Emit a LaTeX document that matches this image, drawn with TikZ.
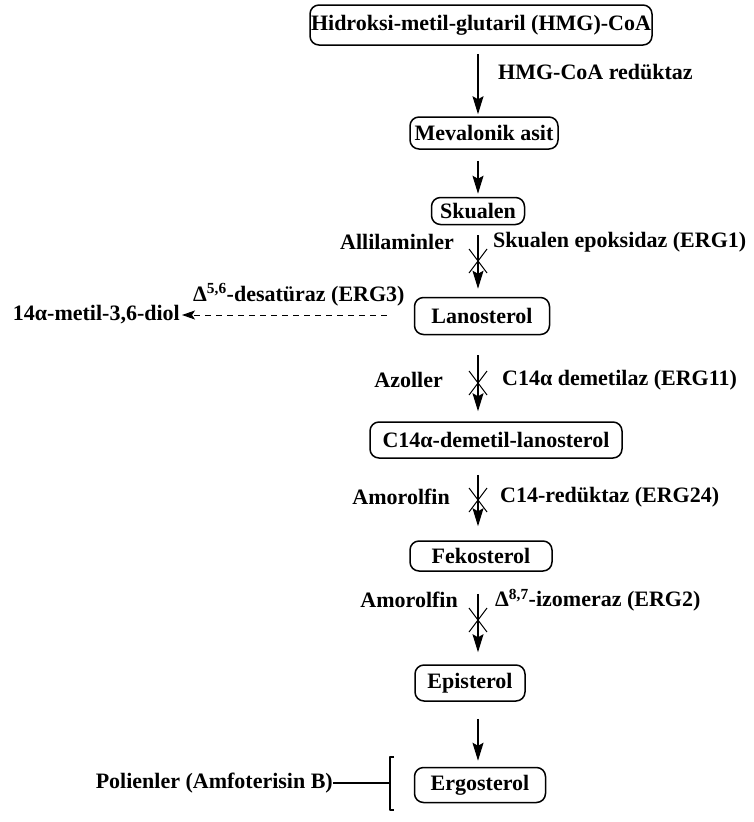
\documentclass[tikz,border=0pt]{standalone}
\usepackage{fontspec}
\setmainfont{Liberation Serif}
\usetikzlibrary{arrows.meta}
\tikzset{
  box/.style={draw, rounded corners=9pt, line width=1.5pt, inner sep=0pt},
  lab/.style={inner sep=0pt},
  stopx/.style={line width=1pt},
}
\begin{document}
\begin{tikzpicture}[x=1pt, y=-1pt, font=\fontsize{22}{26}\selectfont\bfseries, line join=round, >={Stealth[length=18pt,width=11pt,inset=3pt]}]
\useasboundingbox (0,0) rectangle (753,822);
\path (478,0) coordinate (ax);
% sterol boxes
\foreach \n/\x/\y/\w/\h/\t in {
  hmg/481/25/342/40/{Hidroksi-metil-glutaril (HMG)-CoA},
  mev/484/133/148/32/{Mevalonik asit},
  sku/478/211/93/27/{Skualen},
  lano/482/316/135/37/{Lanosterol},
  dem/496/440/252/36/{C14α-demetil-lanosterol},
  fek/481/556/142/30/{Fekosterol},
  epi/470/683/110/36/{Episterol},
  ergo/480/785/131/35/{Ergosterol}}
  \node[box, minimum width=\w pt, minimum height=\h pt] (\n) at (\x,\y) {\t};
\foreach \a/\b/\s/\e in {hmg/mev/8/2, mev/sku/11/3, sku/lano/10/8, lano/dem/20/10,
    dem/fek/16/14, fek/epi/22/12, epi/ergo/17/6}
  \draw[->, line width=1.4pt, shorten <=\s pt, shorten >=\e pt] (\a.south -| ax) -- (\b.north -| ax);
% enzymes and inhibitors
\node[lab, anchor=west] (hmgr) at (498,72) {HMG-CoA redüktaz};
\node[lab, anchor=east] (alli) at (454,242) {Allilaminler};
\node[lab, anchor=west] (erg1) at (493,242) {Skualen epoksidaz (ERG1)};
\node[lab, anchor=east] (azol) at (443,380) {Azoller};
\node[lab, anchor=west] (erg11) at (502,380) {C14α demetilaz (ERG11)};
\node[lab, anchor=east] (amor1) at (450,497) {Amorolfin};
\node[lab, anchor=west] (erg24) at (500,497) {C14-redüktaz (ERG24)};
\node[lab, anchor=east] (amor2) at (458,600) {Amorolfin};
\node[lab, anchor=west] (erg2) at (495,600) {Δ\textsuperscript{8,7}-izomeraz (ERG2)};
\foreach \y in {261, 383, 500, 620}
  \draw[stopx] (469,\y-12) -- (487,\y+12) (487,\y-12) -- (469,\y+12);
% side branch
\node[lab, anchor=east] (diol) at (180,315) {14α-metil-3,6-diol};
\node[lab, anchor=west] (erg3) at (193,295) {Δ\textsuperscript{5,6}-desatüraz (ERG3)};
\draw[->, dash pattern=on 6pt off 5pt, line width=1pt, >={Stealth[length=13pt,width=9pt,inset=3pt]},
  shorten <=27pt, shorten >=2pt] (lano.west |- diol) -- (diol.east);
% polyenes
\node[lab, anchor=east] (pol) at (333,783) {Polienler (Amfoterisin B)};
\path (390,783) coordinate (brk);
\draw[line width=1.2pt] (394,757) -- (390,757) -- (390,810) -- (394,810);
\draw[line width=1.2pt] (pol.east) -- (brk);
\end{tikzpicture}
\end{document}
